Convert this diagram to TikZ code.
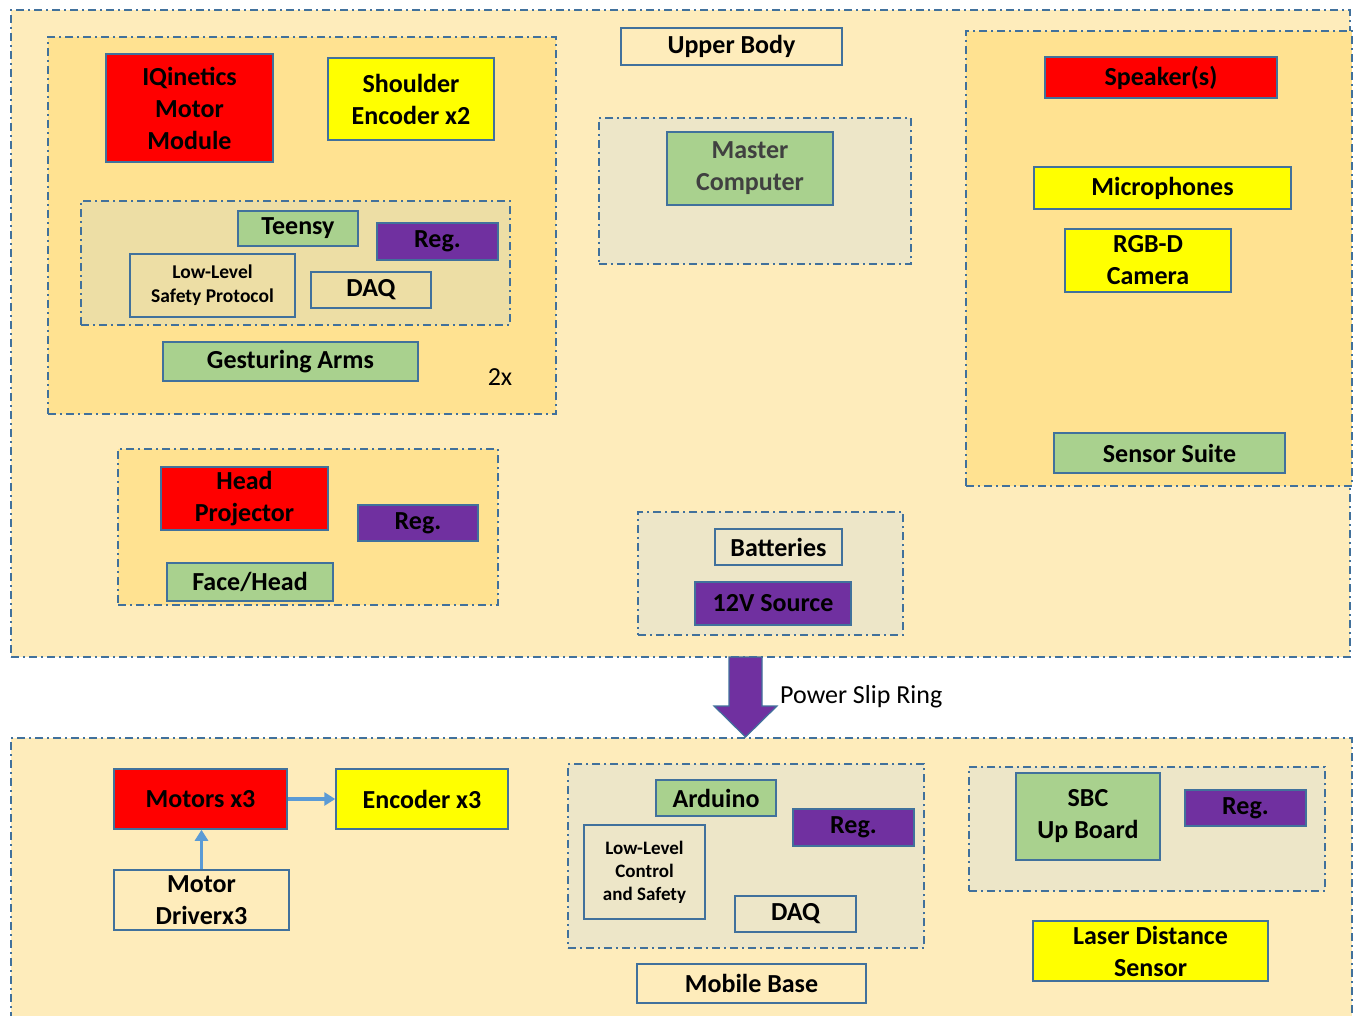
\documentclass[tikz,border=0pt]{standalone}
\usepackage{fontspec}
\setmainfont{Carlito}
\usetikzlibrary{arrows.meta}

\definecolor{bordblue}{RGB}{65,113,156}
\definecolor{linkblue}{RGB}{91,155,213}
\definecolor{outerfill}{RGB}{254,236,187}
\definecolor{groupfill}{RGB}{255,226,145}
\definecolor{greyfill}{RGB}{237,230,200}
\definecolor{greyonyel}{RGB}{237,222,165}
\definecolor{boxred}{RGB}{255,0,0}
\definecolor{boxyellow}{RGB}{255,255,0}
\definecolor{boxgreen}{RGB}{169,209,142}
\definecolor{boxpurple}{RGB}{112,48,160}
\definecolor{darktext}{RGB}{64,64,64}

\tikzset{
  grp/.style={draw=bordblue, line width=1.5pt, dash pattern=on 8pt off 4pt on 2pt off 4pt, inner sep=0pt},
  unit/.style={draw=bordblue, line width=1.5pt, inner sep=0pt, align=center,
    font=\bfseries\fontsize{26}{32}\selectfont},
  small/.style={font=\bfseries\fontsize{19.5}{24}\selectfont},
  link/.style={draw=linkblue, line width=3.5pt, -{Triangle[length=11pt,width=13pt]}},
  ring/.style={fill=boxpurple, draw=bordblue, line width=1.2pt}
}

\begin{document}
\begin{tikzpicture}[x=1pt,y=1pt,yscale=-1]
\useasboundingbox (0,0) rectangle (1355,1015);
\fill[white] (0,0) rectangle (1355,1015);
\clip (0,0) rectangle (1355,1015);

% upper body
\node[grp, fill=outerfill, minimum width=1339pt, minimum height=647pt] (upper) at (680.5,333.5) {};
\node[unit, minimum width=221pt, minimum height=37pt] (upperbody) at (731.5,46.5) {Upper Body};

% gesturing arms
\node[grp, fill=groupfill, minimum width=508pt, minimum height=377pt] (arms) at (302,225.5) {};
\node[unit, fill=boxred, minimum width=167pt, minimum height=108pt] (iqmotor) at (189.5,108) {IQinetics\\Motor\\Module};
\node[unit, fill=boxyellow, minimum width=166pt, minimum height=82pt] (shoulder) at (411,99) {Shoulder\\Encoder x2};
\node[grp, fill=greyonyel, minimum width=429pt, minimum height=124pt] (armctl) at (295.5,263) {};
\node[unit, fill=boxgreen, minimum width=120pt, minimum height=35pt] (teensy) at (298,228.5) {Teensy};
\node[unit, fill=boxpurple, minimum width=121pt, minimum height=37pt] (armreg) at (437.5,241.5) {Reg.};
\node[unit, small, minimum width=165pt, minimum height=63pt] (armsafety) at (212.5,285.5) {Low-Level\\Safety Protocol};
\node[unit, minimum width=120pt, minimum height=36pt] (armdaq) at (371,290) {DAQ};
\node[unit, fill=boxgreen, minimum width=255pt, minimum height=39pt] (gesture) at (290.5,361.5) {Gesturing Arms};
\node[font=\fontsize{26}{32}\selectfont] (twice) at (500,377) {2x};

% master computer
\node[grp, fill=greyfill, minimum width=312pt, minimum height=146pt] (mastergrp) at (755,191) {};
\node[unit, fill=boxgreen, text=darktext, minimum width=166pt, minimum height=73pt] (master) at (750,168.5) {Master\\Computer};

% sensor suite
\node[grp, fill=groupfill, minimum width=386pt, minimum height=455pt] (sensors) at (1159,258.5) {};
\node[unit, fill=boxred, minimum width=232pt, minimum height=41pt] (speaker) at (1161,77.5) {Speaker(s)};
\node[unit, fill=boxyellow, minimum width=257pt, minimum height=42pt] (mics) at (1162.5,188) {Microphones};
\node[unit, fill=boxyellow, minimum width=166pt, minimum height=63pt] (rgbd) at (1148,260.5) {RGB-D\\Camera};
\node[unit, fill=boxgreen, minimum width=231pt, minimum height=40pt] (suite) at (1169.5,453) {Sensor Suite};

% face/head
\node[grp, fill=groupfill, minimum width=380pt, minimum height=156pt] (head) at (308,527) {};
\node[unit, fill=boxred, minimum width=167pt, minimum height=63pt] (projector) at (244.5,498.5) {Head\\Projector};
\node[unit, fill=boxpurple, minimum width=120pt, minimum height=36pt] (headreg) at (418,523) {Reg.};
\node[unit, fill=boxgreen, minimum width=166pt, minimum height=38pt] (face) at (250,582) {Face/Head};

% power
\node[grp, fill=greyfill, minimum width=265pt, minimum height=123pt] (power) at (770.5,573.5) {};
\node[unit, minimum width=127pt, minimum height=36pt] (batteries) at (778.5,547) {Batteries};
\node[unit, fill=boxpurple, minimum width=156pt, minimum height=43pt] (source) at (773,603.5) {12V Source};

% lower body
\node[grp, fill=outerfill, minimum width=1341pt, minimum height=302pt] (lower) at (681.5,889) {};

% slip ring
\coordinate (ringtop) at (745.5,657);
\draw[ring] (ringtop) ++(-16.5,0) -- ++(33,0) -- ++(0,49) -- ++(15,0) -- ++(-31.5,31) -- ++(-31.5,-31) -- ++(15,0) -- cycle;
\node[anchor=west, font=\fontsize{26}{32}\selectfont, inner sep=0pt] (ringlabel) at (780,697) {Power Slip Ring};

% drive
\node[unit, fill=boxred, minimum width=173pt, minimum height=60pt] (motors) at (200.5,799) {Motors x3};
\node[unit, fill=boxyellow, minimum width=172pt, minimum height=60pt] (encoder) at (422,799) {Encoder x3};
\node[unit, minimum width=175pt, minimum height=60pt] (driver) at (201.5,900) {Motor\\Driverx3};
\draw[link] (motors) -- (encoder);
\draw[link] (driver.north) -- (driver.north |- motors.south);

% mobile base
\node[grp, fill=greyfill, minimum width=356pt, minimum height=184pt] (basegrp) at (746,856) {};
\node[unit, fill=boxgreen, minimum width=120pt, minimum height=36pt] (arduino) at (716,798) {Arduino};
\node[unit, fill=boxpurple, minimum width=121pt, minimum height=37pt] (basereg) at (853.5,827.5) {Reg.};
\node[unit, small, font=\bfseries\fontsize{19}{23}\selectfont, minimum width=121pt, minimum height=94pt] (control) at (644.5,872) {Low-Level\\Control\\and Safety};
\node[unit, minimum width=121pt, minimum height=36pt] (basedaq) at (795.5,914) {DAQ};
\node[unit, minimum width=229pt, minimum height=39pt] (mobile) at (751.5,983.5) {Mobile Base};

% sbc
\node[grp, fill=greyfill, minimum width=356pt, minimum height=124pt] (sbcgrp) at (1147,829) {};
\node[unit, fill=boxgreen, minimum width=144pt, minimum height=87pt] (sbc) at (1088,816.5) {SBC\\Up Board};
\node[unit, fill=boxpurple, minimum width=121pt, minimum height=36pt] (sbcreg) at (1245.5,808) {Reg.};
\node[unit, fill=boxyellow, minimum width=235pt, minimum height=60pt] (laser) at (1150.5,951) {Laser Distance\\Sensor};
\end{tikzpicture}
\end{document}
